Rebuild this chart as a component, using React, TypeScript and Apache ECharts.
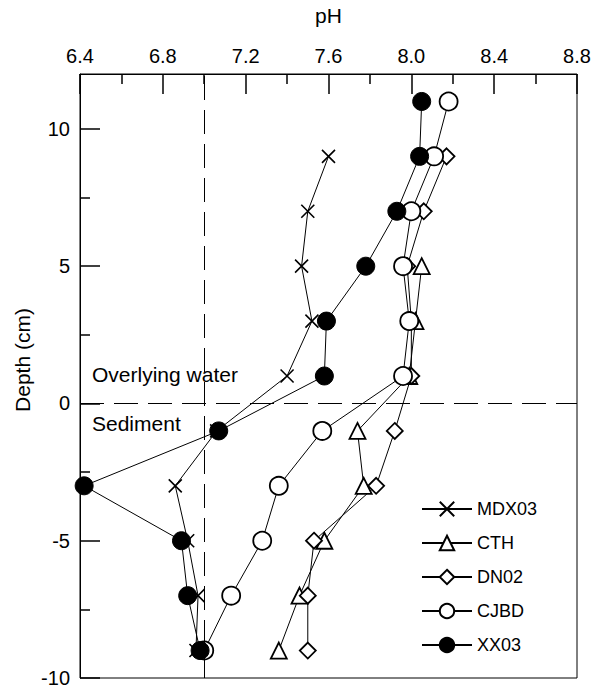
import React, { useEffect, useRef } from "react";
import * as echarts from "echarts";

const depthXX03 = [11, 9, 7, 5, 3, 1, -1, -3, -5, -7, -9];
const phXX03 = [8.05, 8.04, 7.93, 7.78, 7.59, 7.58, 7.07, 6.42, 6.89, 6.92, 6.98];
const depthCJBD = [11, 9, 7, 5, 3, 1, -1, -3, -5, -7, -9];
const phCJBD = [8.18, 8.11, 8.0, 7.96, 7.99, 7.96, 7.57, 7.36, 7.28, 7.13, 7.0];
const depthDN02 = [9, 7, 5, 3, 1, -1, -3, -5, -7, -9];
const phDN02 = [8.17, 8.06, 7.98, 8.0, 8.0, 7.92, 7.83, 7.53, 7.5, 7.5];
const depthCTH = [5, 3, 1, -1, -3, -5, -7, -9];
const phCTH = [8.05, 8.02, 7.99, 7.74, 7.77, 7.58, 7.46, 7.36];
const depthMDX03 = [9, 7, 5, 3, 1, -1, -3, -5, -7, -9];
const phMDX03 = [7.6, 7.5, 7.47, 7.52, 7.4, 7.06, 6.86, 6.92, 6.97, 6.96];

const yMajorTicks = [-10, -5, 0, 5, 10];
const yMinorTicks = [-7.5, -2.5, 2.5, 7.5];
const sedimentBoundary = 0;
const neutralPH = 7.0;

const FONT = "Liberation Sans, Arial, sans-serif";
const crossPath = "path://M0,0L10,10M10,0L0,10";

function pairs(xs: number[], ys: number[]) {
  return xs.map((x, i) => [x, ys[i]]);
}

export default function App() {
  const ref = useRef<HTMLDivElement>(null);
  useEffect(() => {
    const chart = echarts.init(ref.current!, null, { renderer: "svg" });
    const base = (name: string, symbol: string, size: number, filled: boolean, data: number[][]) => ({
      name,
      type: "line",
      data,
      symbol,
      symbolSize: size,
      showAllSymbol: true,
      lineStyle: { color: "#000", width: 1 },
      itemStyle: {
        color: filled ? "#000" : "#fff",
        borderColor: "#000",
        borderWidth: filled ? 1 : 1.8,
      },
      emphasis: { disabled: true },
    });
    const series: any[] = [
      {
        ...base("MDX03", crossPath, 13, true, pairs(phMDX03, depthMDX03)),
        itemStyle: { color: "#000", borderColor: "#000", borderWidth: 1.6 },
        markLine: {
          silent: true,
          symbol: "none",
          label: { show: false },
          lineStyle: { color: "#000", width: 1, type: [24, 10] },
          data: [{ xAxis: neutralPH }, { yAxis: sedimentBoundary }],
        },
      },
      base("CTH", "triangle", 16, false, pairs(phCTH, depthCTH)),
      base("DN02", "diamond", 16, false, pairs(phDN02, depthDN02)),
      base("CJBD", "circle", 18, false, pairs(phCJBD, depthCJBD)),
      base("XX03", "circle", 18, true, pairs(phXX03, depthXX03)),
    ];
    chart.setOption({
      animation: false,
      textStyle: { fontFamily: FONT, color: "#000" },
      grid: {
        left: 80,
        right: 23,
        top: 73,
        bottom: 5,
        show: true,
        borderColor: "#000",
        borderWidth: 1,
      },
      xAxis: {
        type: "value",
        position: "top",
        min: 6.4,
        max: 8.8,
        interval: 0.4,
        name: "pH",
        nameLocation: "middle",
        nameGap: 48,
        nameTextStyle: { fontSize: 21, color: "#000", fontFamily: FONT },
        axisLine: { show: true, onZero: false, lineStyle: { color: "#000", width: 1 } },
        axisTick: { show: true, inside: true, length: 20, lineStyle: { color: "#000", width: 1.5 } },
        minorTick: { show: true, splitNumber: 2, length: 10, lineStyle: { color: "#000", width: 1.5 } },
        splitLine: { show: false },
        minorSplitLine: { show: false },
        axisLabel: {
          fontSize: 20,
          color: "#000",
          fontFamily: FONT,
          margin: 8,
          formatter: (v: number) => v.toFixed(1),
        },
      },
      yAxis: [
        {
          type: "value",
          min: -10,
          max: 12,
          axisLine: { show: true, onZero: false, lineStyle: { color: "#000", width: 1 } },
          axisTick: { show: true, inside: true, length: 20, customValues: yMajorTicks, lineStyle: { color: "#000", width: 1.5 } },
          splitLine: { show: false },
          axisLabel: { fontSize: 20, color: "#000", fontFamily: FONT, margin: 10, customValues: yMajorTicks },
        },
        {
          type: "value",
          min: -10,
          max: 12,
          position: "left",
          axisLine: { show: false, onZero: false },
          axisTick: { show: true, inside: true, length: 10, customValues: yMinorTicks, lineStyle: { color: "#000", width: 1.5 } },
          splitLine: { show: false },
          axisLabel: { show: false },
        },
      ],
      legend: {
        orient: "vertical",
        left: 416,
        top: 495,
        itemWidth: 50,
        itemHeight: 18,
        itemGap: 16,
        textStyle: { fontSize: 18, color: "#000", fontFamily: FONT },
        data: ["MDX03", "CTH", "DN02", "CJBD", "XX03"],
      },
      graphic: [
        {
          type: "text",
          x: 22,
          y: 360,
          rotation: Math.PI / 2,
          style: {
            text: "Depth (cm)",
            fontSize: 21,
            fill: "#000",
            fontFamily: FONT,
            align: "center",
            verticalAlign: "middle",
          },
        },
        {
          type: "text",
          left: 92,
          top: 364,
          style: { text: "Overlying water", fontSize: 21, fill: "#000", fontFamily: FONT },
        },
        {
          type: "text",
          left: 92,
          top: 413,
          style: { text: "Sediment", fontSize: 21, fill: "#000", fontFamily: FONT },
        },
      ],
      series,
    });
    return () => chart.dispose();
  }, []);
  return (
    <div
      ref={ref}
      style={{ width: 600, height: 688, position: "absolute", left: 0, top: 0 }}
    />
  );
}
